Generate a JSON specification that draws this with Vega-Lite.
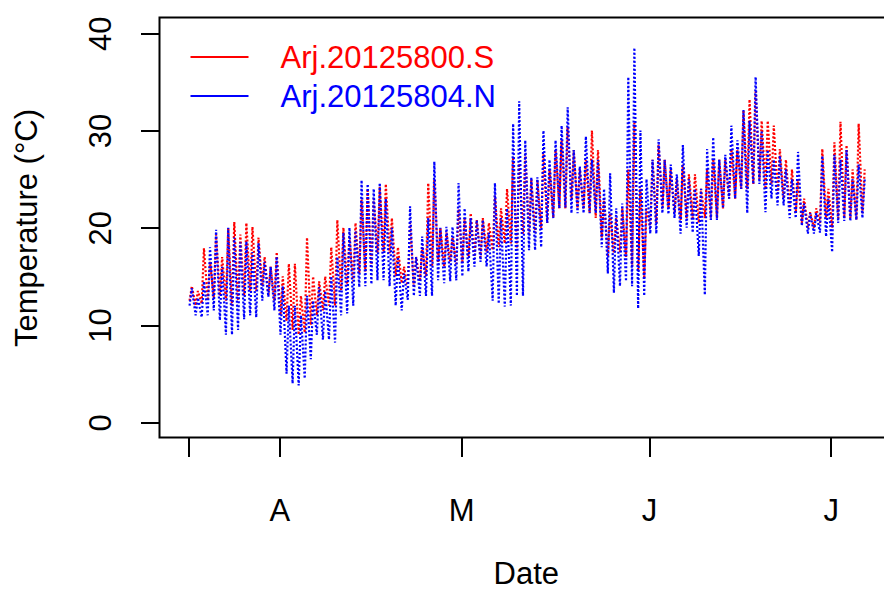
{
 "$schema": "https://vega.github.io/schema/vega-lite/v6.json",
 "autosize": {"type": "none"},
 "padding": {"left": 159.5, "top": 17.5, "right": 0, "bottom": 152.5},
 "width": 732.5,
 "height": 420,
 "background": "white",
 "config": {"view": {"stroke": "black", "strokeWidth": 2}, "font": "Liberation Sans"},
 "data": {"values": [
{"t":"2012-03-17T05:00","S":12.5,"N":12.0},{"t":"2012-03-17T14:00","S":14.0,"N":13.8},
{"t":"2012-03-18T05:00","S":12.0,"N":11.0},{"t":"2012-03-18T14:00","S":13.5,"N":12.8},
{"t":"2012-03-19T05:00","S":12.2,"N":10.8},{"t":"2012-03-19T14:00","S":17.9,"N":14.5},
{"t":"2012-03-20T05:00","S":12.5,"N":11.0},{"t":"2012-03-20T14:00","S":16.5,"N":18.0},
{"t":"2012-03-21T05:00","S":12.8,"N":11.5},{"t":"2012-03-21T14:00","S":19.3,"N":19.8},
{"t":"2012-03-22T05:00","S":13.0,"N":10.5},{"t":"2012-03-22T14:00","S":17.0,"N":16.0},
{"t":"2012-03-23T05:00","S":12.5,"N":9.0},{"t":"2012-03-23T14:00","S":20.0,"N":20.0},
{"t":"2012-03-24T05:00","S":12.0,"N":9.0},{"t":"2012-03-24T14:00","S":20.6,"N":19.0},
{"t":"2012-03-25T05:00","S":12.5,"N":9.5},{"t":"2012-03-25T14:00","S":19.3,"N":18.5},
{"t":"2012-03-26T05:00","S":13.0,"N":10.6},{"t":"2012-03-26T14:00","S":20.5,"N":18.6},
{"t":"2012-03-27T05:00","S":13.5,"N":11.0},{"t":"2012-03-27T14:00","S":20.1,"N":17.5},
{"t":"2012-03-28T05:00","S":13.5,"N":10.8},{"t":"2012-03-28T14:00","S":19.0,"N":18.4},
{"t":"2012-03-29T05:00","S":14.0,"N":12.5},{"t":"2012-03-29T14:00","S":17.0,"N":16.5},
{"t":"2012-03-30T05:00","S":13.0,"N":12.9},{"t":"2012-03-30T14:00","S":16.0,"N":16.0},
{"t":"2012-03-31T05:00","S":12.5,"N":11.5},{"t":"2012-03-31T14:00","S":17.5,"N":17.0},
{"t":"2012-04-01T05:00","S":11.0,"N":9.0},{"t":"2012-04-01T14:00","S":15.0,"N":14.0},
{"t":"2012-04-02T05:00","S":10.4,"N":5.0},{"t":"2012-04-02T14:00","S":16.3,"N":12.0},
{"t":"2012-04-03T05:00","S":9.5,"N":4.0},{"t":"2012-04-03T14:00","S":16.3,"N":12.0},
{"t":"2012-04-04T05:00","S":9.0,"N":3.8},{"t":"2012-04-04T14:00","S":13.0,"N":11.0},
{"t":"2012-04-05T05:00","S":9.2,"N":4.5},{"t":"2012-04-05T14:00","S":19.0,"N":13.0},
{"t":"2012-04-06T05:00","S":10.0,"N":6.5},{"t":"2012-04-06T14:00","S":15.0,"N":12.5},
{"t":"2012-04-07T05:00","S":11.0,"N":9.0},{"t":"2012-04-07T14:00","S":14.5,"N":13.9},
{"t":"2012-04-08T05:00","S":11.5,"N":8.5},{"t":"2012-04-08T14:00","S":15.0,"N":13.5},
{"t":"2012-04-09T05:00","S":12.0,"N":8.5},{"t":"2012-04-09T14:00","S":18.0,"N":15.0},
{"t":"2012-04-10T05:00","S":12.0,"N":8.2},{"t":"2012-04-10T14:00","S":20.8,"N":17.0},
{"t":"2012-04-11T05:00","S":13.5,"N":11.0},{"t":"2012-04-11T14:00","S":20.0,"N":19.5},
{"t":"2012-04-12T05:00","S":14.0,"N":11.2},{"t":"2012-04-12T14:00","S":19.0,"N":20.0},
{"t":"2012-04-13T05:00","S":14.5,"N":12.0},{"t":"2012-04-13T14:00","S":20.5,"N":19.7},
{"t":"2012-04-14T05:00","S":15.3,"N":13.9},{"t":"2012-04-14T14:00","S":22.9,"N":24.9},
{"t":"2012-04-15T05:00","S":15.5,"N":14.0},{"t":"2012-04-15T14:00","S":24.0,"N":24.5},
{"t":"2012-04-16T05:00","S":16.0,"N":14.2},{"t":"2012-04-16T14:00","S":23.0,"N":24.0},
{"t":"2012-04-17T05:00","S":17.4,"N":14.6},{"t":"2012-04-17T14:00","S":24.2,"N":24.6},
{"t":"2012-04-18T05:00","S":17.5,"N":14.6},{"t":"2012-04-18T14:00","S":24.5,"N":23.0},
{"t":"2012-04-19T05:00","S":17.4,"N":14.0},{"t":"2012-04-19T14:00","S":21.0,"N":20.0},
{"t":"2012-04-20T05:00","S":15.0,"N":12.0},{"t":"2012-04-20T14:00","S":18.0,"N":17.0},
{"t":"2012-04-21T05:00","S":14.3,"N":11.5},{"t":"2012-04-21T14:00","S":16.0,"N":15.3},
{"t":"2012-04-22T05:00","S":13.9,"N":12.6},{"t":"2012-04-22T14:00","S":20.5,"N":22.2},
{"t":"2012-04-23T05:00","S":14.0,"N":13.0},{"t":"2012-04-23T14:00","S":17.0,"N":17.0},
{"t":"2012-04-24T05:00","S":14.5,"N":13.0},{"t":"2012-04-24T14:00","S":18.0,"N":19.1},
{"t":"2012-04-25T05:00","S":15.0,"N":13.0},{"t":"2012-04-25T14:00","S":24.6,"N":21.0},
{"t":"2012-04-26T05:00","S":16.0,"N":13.0},{"t":"2012-04-26T14:00","S":25.0,"N":26.8},
{"t":"2012-04-27T05:00","S":16.5,"N":14.6},{"t":"2012-04-27T14:00","S":20.0,"N":20.0},
{"t":"2012-04-28T05:00","S":16.0,"N":14.3},{"t":"2012-04-28T14:00","S":19.5,"N":20.1},
{"t":"2012-04-29T05:00","S":16.5,"N":14.5},{"t":"2012-04-29T14:00","S":19.0,"N":20.1},
{"t":"2012-04-30T05:00","S":16.3,"N":14.6},{"t":"2012-04-30T14:00","S":21.9,"N":24.6},
{"t":"2012-05-01T05:00","S":16.5,"N":15.0},{"t":"2012-05-01T14:00","S":21.0,"N":22.0},
{"t":"2012-05-02T05:00","S":17.0,"N":15.5},{"t":"2012-05-02T14:00","S":21.5,"N":21.0},
{"t":"2012-05-03T05:00","S":17.0,"N":16.0},{"t":"2012-05-03T14:00","S":20.8,"N":20.8},
{"t":"2012-05-04T05:00","S":17.0,"N":16.5},{"t":"2012-05-04T14:00","S":21.0,"N":20.8},
{"t":"2012-05-05T05:00","S":17.5,"N":16.0},{"t":"2012-05-05T14:00","S":20.5,"N":19.5},
{"t":"2012-05-06T05:00","S":17.7,"N":12.5},{"t":"2012-05-06T14:00","S":23.3,"N":24.6},
{"t":"2012-05-07T05:00","S":18.0,"N":12.2},{"t":"2012-05-07T14:00","S":22.0,"N":21.0},
{"t":"2012-05-08T05:00","S":18.4,"N":11.9},{"t":"2012-05-08T14:00","S":24.0,"N":22.0},
{"t":"2012-05-09T05:00","S":18.4,"N":12.0},{"t":"2012-05-09T14:00","S":27.3,"N":30.7},
{"t":"2012-05-10T05:00","S":17.7,"N":13.0},{"t":"2012-05-10T14:00","S":26.6,"N":33.0},
{"t":"2012-05-11T05:00","S":19.4,"N":13.0},{"t":"2012-05-11T14:00","S":27.6,"N":29.0},
{"t":"2012-05-12T05:00","S":19.4,"N":17.7},{"t":"2012-05-12T14:00","S":25.0,"N":25.2},
{"t":"2012-05-13T05:00","S":19.5,"N":17.7},{"t":"2012-05-13T14:00","S":24.9,"N":25.2},
{"t":"2012-05-14T05:00","S":20.0,"N":18.0},{"t":"2012-05-14T14:00","S":27.6,"N":30.0},
{"t":"2012-05-15T05:00","S":20.5,"N":20.5},{"t":"2012-05-15T14:00","S":26.0,"N":27.0},
{"t":"2012-05-16T05:00","S":21.0,"N":21.0},{"t":"2012-05-16T14:00","S":28.0,"N":29.0},
{"t":"2012-05-17T05:00","S":22.0,"N":22.0},{"t":"2012-05-17T14:00","S":29.0,"N":30.5},
{"t":"2012-05-18T05:00","S":22.0,"N":22.1},{"t":"2012-05-18T14:00","S":30.4,"N":32.4},
{"t":"2012-05-19T05:00","S":23.0,"N":21.5},{"t":"2012-05-19T14:00","S":28.0,"N":28.0},
{"t":"2012-05-20T05:00","S":22.0,"N":21.5},{"t":"2012-05-20T14:00","S":26.0,"N":26.3},
{"t":"2012-05-21T05:00","S":22.0,"N":21.5},{"t":"2012-05-21T14:00","S":27.0,"N":29.4},
{"t":"2012-05-22T05:00","S":21.5,"N":21.5},{"t":"2012-05-22T14:00","S":30.0,"N":27.0},
{"t":"2012-05-23T05:00","S":21.0,"N":21.5},{"t":"2012-05-23T14:00","S":28.0,"N":27.0},
{"t":"2012-05-24T05:00","S":19.0,"N":18.0},{"t":"2012-05-24T14:00","S":23.0,"N":24.0},
{"t":"2012-05-25T05:00","S":17.0,"N":15.3},{"t":"2012-05-25T14:00","S":21.5,"N":25.6},
{"t":"2012-05-26T05:00","S":17.4,"N":13.3},{"t":"2012-05-26T14:00","S":21.0,"N":22.0},
{"t":"2012-05-27T05:00","S":17.5,"N":14.0},{"t":"2012-05-27T14:00","S":22.0,"N":22.5},
{"t":"2012-05-28T05:00","S":17.0,"N":14.5},{"t":"2012-05-28T14:00","S":26.0,"N":35.5},
{"t":"2012-05-29T05:00","S":16.0,"N":14.0},{"t":"2012-05-29T14:00","S":30.8,"N":38.5},
{"t":"2012-05-30T05:00","S":15.5,"N":11.7},{"t":"2012-05-30T14:00","S":24.0,"N":30.0},
{"t":"2012-05-31T05:00","S":14.8,"N":13.0},{"t":"2012-05-31T14:00","S":22.0,"N":25.0},
{"t":"2012-06-01T05:00","S":20.0,"N":19.4},{"t":"2012-06-01T14:00","S":27.0,"N":27.0},
{"t":"2012-06-02T05:00","S":20.5,"N":19.4},{"t":"2012-06-02T14:00","S":28.5,"N":29.1},
{"t":"2012-06-03T05:00","S":22.0,"N":21.5},{"t":"2012-06-03T14:00","S":27.0,"N":27.0},
{"t":"2012-06-04T05:00","S":22.0,"N":21.4},{"t":"2012-06-04T14:00","S":26.0,"N":26.5},
{"t":"2012-06-05T05:00","S":21.5,"N":21.0},{"t":"2012-06-05T14:00","S":25.0,"N":25.5},
{"t":"2012-06-06T05:00","S":20.8,"N":19.4},{"t":"2012-06-06T14:00","S":26.5,"N":28.5},
{"t":"2012-06-07T05:00","S":21.0,"N":20.0},{"t":"2012-06-07T14:00","S":25.5,"N":25.0},
{"t":"2012-06-08T05:00","S":21.0,"N":19.5},{"t":"2012-06-08T14:00","S":25.5,"N":24.0},
{"t":"2012-06-09T05:00","S":20.5,"N":17.1},{"t":"2012-06-09T14:00","S":24.0,"N":24.0},
{"t":"2012-06-10T05:00","S":21.0,"N":13.1},{"t":"2012-06-10T14:00","S":26.0,"N":28.1},
{"t":"2012-06-11T05:00","S":20.8,"N":20.8},{"t":"2012-06-11T14:00","S":27.1,"N":29.3},
{"t":"2012-06-12T05:00","S":21.0,"N":20.8},{"t":"2012-06-12T14:00","S":27.0,"N":27.0},
{"t":"2012-06-13T05:00","S":22.0,"N":22.0},{"t":"2012-06-13T14:00","S":27.0,"N":27.5},
{"t":"2012-06-14T05:00","S":23.0,"N":23.0},{"t":"2012-06-14T14:00","S":28.1,"N":30.5},
{"t":"2012-06-15T05:00","S":23.0,"N":23.0},{"t":"2012-06-15T14:00","S":28.0,"N":29.0},
{"t":"2012-06-16T05:00","S":24.0,"N":24.0},{"t":"2012-06-16T14:00","S":32.1,"N":32.1},
{"t":"2012-06-17T05:00","S":24.0,"N":21.5},{"t":"2012-06-17T14:00","S":33.2,"N":31.0},
{"t":"2012-06-18T05:00","S":24.5,"N":24.5},{"t":"2012-06-18T14:00","S":34.0,"N":35.5},
{"t":"2012-06-19T05:00","S":25.0,"N":24.5},{"t":"2012-06-19T14:00","S":31.0,"N":30.0},
{"t":"2012-06-20T05:00","S":24.0,"N":21.6},{"t":"2012-06-20T14:00","S":31.0,"N":28.0},
{"t":"2012-06-21T05:00","S":24.5,"N":23.0},{"t":"2012-06-21T14:00","S":30.5,"N":27.0},
{"t":"2012-06-22T05:00","S":23.5,"N":22.3},{"t":"2012-06-22T14:00","S":28.1,"N":27.4},
{"t":"2012-06-23T05:00","S":23.0,"N":22.3},{"t":"2012-06-23T14:00","S":27.0,"N":26.0},
{"t":"2012-06-24T05:00","S":22.0,"N":21.0},{"t":"2012-06-24T14:00","S":26.0,"N":25.0},
{"t":"2012-06-25T05:00","S":21.5,"N":21.0},{"t":"2012-06-25T14:00","S":25.0,"N":27.8},
{"t":"2012-06-26T05:00","S":20.5,"N":20.2},{"t":"2012-06-26T14:00","S":23.0,"N":22.5},
{"t":"2012-06-27T05:00","S":20.0,"N":19.4},{"t":"2012-06-27T14:00","S":21.6,"N":21.5},
{"t":"2012-06-28T05:00","S":20.0,"N":19.4},{"t":"2012-06-28T14:00","S":22.0,"N":21.5},
{"t":"2012-06-29T05:00","S":20.5,"N":19.5},{"t":"2012-06-29T14:00","S":28.1,"N":27.4},
{"t":"2012-06-30T05:00","S":21.0,"N":19.1},{"t":"2012-06-30T14:00","S":24.0,"N":23.0},
{"t":"2012-07-01T05:00","S":20.0,"N":17.5},{"t":"2012-07-01T14:00","S":28.8,"N":27.5},
{"t":"2012-07-02T05:00","S":21.0,"N":20.5},{"t":"2012-07-02T14:00","S":30.9,"N":27.0},
{"t":"2012-07-03T05:00","S":21.0,"N":20.7},{"t":"2012-07-03T14:00","S":28.5,"N":28.0},
{"t":"2012-07-04T05:00","S":21.0,"N":20.7},{"t":"2012-07-04T14:00","S":26.0,"N":25.0},
{"t":"2012-07-05T05:00","S":20.8,"N":20.8},{"t":"2012-07-05T14:00","S":30.7,"N":26.5},
{"t":"2012-07-06T05:00","S":21.5,"N":21.0},{"t":"2012-07-06T14:00","S":26.0,"N":25.0}
 ]},
 "transform": [{"fold": ["S", "N"], "as": ["series", "temp"]}],
 "mark": {"type": "line", "strokeWidth": 2.2, "strokeDash": [2, 2], "clip": true},
 "encoding": {
  "x": {
   "field": "t", "type": "temporal",
   "scale": {"domain": [{"year": 2012, "month": 3, "date": 12, "hours": 6}, {"year": 2012, "month": 7, "date": 11, "hours": 2}]},
   "axis": {
    "values": [{"year": 2012, "month": 3, "date": 17}, {"year": 2012, "month": 4, "date": 1}, {"year": 2012, "month": 5, "date": 1}, {"year": 2012, "month": 6, "date": 1}, {"year": 2012, "month": 7, "date": 1}],
    "labelExpr": "month(datum.value) == 2 ? '' : slice(timeFormat(datum.value, '%B'), 0, 1)",
    "domain": false, "grid": false,
    "tickSize": 19, "tickWidth": 2, "tickColor": "black",
    "labelFont": "Liberation Sans", "labelFontSize": 31, "labelColor": "black",
    "labelBaseline": "alphabetic", "labelPadding": 63.5, "labelAngle": 0,
    "labelOverlap": false, "labelFlush": false, "labelAlign": "center",
    "title": "Date", "titleFont": "Liberation Sans", "titleFontSize": 31, "titleFontWeight": "normal", "titleColor": "black",
    "titleX": 366.25, "titleY": 145.5, "titleAlign": "center", "titleBaseline": "alphabetic"
   }
  },
  "y": {
   "field": "temp", "type": "quantitative",
   "scale": {"domain": [-1.56, 41.62], "nice": false, "zero": false},
   "axis": {
    "values": [0, 10, 20, 30, 40],
    "domain": false, "grid": false,
    "tickSize": 19, "tickWidth": 2, "tickColor": "black",
    "labelFont": "Liberation Sans", "labelFontSize": 31, "labelColor": "black",
    "labelAngle": -90, "labelAlign": "center", "labelBaseline": "alphabetic", "labelPadding": 30.5,
    "title": "Temperature (°C)", "titleFont": "Liberation Sans", "titleFontSize": 31, "titleFontWeight": "normal", "titleColor": "black",
    "titleAngle": -90, "titleX": -123.5, "titleY": 210, "titleAlign": "center", "titleBaseline": "alphabetic"
   }
  },
  "color": {
   "field": "series", "type": "nominal",
   "scale": {"domain": ["S", "N"], "range": ["#FF0000", "#0000FF"]},
   "legend": {
    "title": null, "orient": "none", "legendX": 30, "legendY": 20, "direction": "vertical",
    "symbolType": "stroke", "symbolSize": 3364, "symbolStrokeWidth": 2, "symbolDash": [100, 0],
    "labelFont": "Liberation Sans", "labelFontSize": 31, "labelLimit": 0, "labelOffset": 31,
    "labelBaseline": "middle", "clipHeight": 39, "rowPadding": 0, "padding": 0,
    "labelExpr": "datum.value == 'S' ? 'Arj.20125800.S' : 'Arj.20125804.N'",
    "encode": {"labels": {"update": {"fill": {"scale": "color", "field": "value"}, "dy": {"value": 2}}}}
   }
  }
 }
}
